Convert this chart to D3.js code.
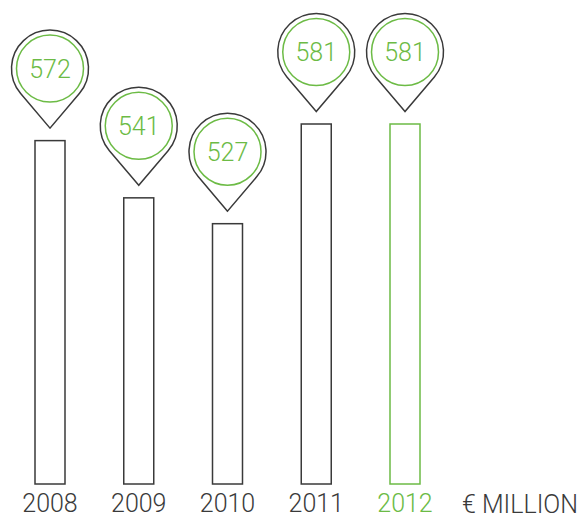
<!DOCTYPE html>
<html>
<head>
<meta charset="utf-8">
<script src="https://d3js.org/d3.v7.min.js"></script>
<style>
  body { margin: 0; background: #fff; }
  svg text { font-family: Roboto, "Open Sans", sans-serif; font-weight: 300; }
</style>
</head>
<body>
<div id="chart"></div>
<script>
var years = ["2008", "2009", "2010", "2011", "2012"];
var values = [572, 541, 527, 581, 581];
var highlight = "2012";
var unitLabel = "€ MILLION";

var width = 583, height = 518;
var dark = "#3a3a3a", green = "#6cbb45";

var svg = d3.select("#chart").append("svg")
    .attr("width", width).attr("height", height);

var x = d3.scaleBand().domain(years).range([35, 420]).paddingInner(0.662).paddingOuter(0);
var y = d3.scaleLinear().domain([386, 581]).range([484, 124]);

var colorOf = function(d) { return d === highlight ? green : dark; };

// bars
svg.selectAll("rect.bar").data(years).enter().append("rect")
    .attr("class", "bar")
    .attr("x", function(d) { return x(d); })
    .attr("y", function(d, i) { return y(values[i]); })
    .attr("width", x.bandwidth())
    .attr("height", function(d, i) { return y.range()[0] - y(values[i]); })
    .attr("fill", "none")
    .attr("stroke", colorOf)
    .attr("stroke-width", 1.5);

// pins
var R = 38.5, r = 33.5, tipGap = 12.5, tipDist = 59.5;
function pinPath(cx, cy) {
    var a = Math.asin(R / tipDist);
    var tx = cx, ty = cy + tipDist;
    var t = Math.sqrt(tipDist * tipDist - R * R);
    var lx = tx - t * Math.sin(a), ly = ty - t * Math.cos(a);
    var rx = tx + t * Math.sin(a);
    return "M" + tx + "," + ty + "L" + lx + "," + ly +
        "A" + R + "," + R + " 0 1 1 " + rx + "," + ly + "Z";
}

var pins = svg.selectAll("g.pin").data(years).enter().append("g")
    .attr("class", "pin")
    .attr("transform", function(d, i) {
        var cx = x(d) + x.bandwidth() / 2;
        var cy = y(values[i]) - tipGap - tipDist;
        return "translate(" + cx + "," + cy + ")";
    });

pins.append("path")
    .attr("d", pinPath(0, 0))
    .attr("fill", "#fff")
    .attr("stroke", dark)
    .attr("stroke-width", 1.5)
    .attr("stroke-linejoin", "miter");

pins.append("circle")
    .attr("r", r)
    .attr("fill", "none")
    .attr("stroke", green)
    .attr("stroke-width", 1.5);

pins.append("text")
    .attr("text-anchor", "middle")
    .attr("dy", "0.36em")
    .attr("font-size", 25)
    .attr("fill", green)
    .text(function(d, i) { return values[i]; });

// axis labels
var axis = svg.append("g").attr("transform", "translate(0,484)")
    .call(d3.axisBottom(x).tickSize(0).tickPadding(10));
axis.select(".domain").remove();
axis.selectAll("text")
    .attr("font-size", 25)
    .attr("font-family", null)
    .attr("dy", "0.71em")
    .attr("fill", colorOf);

svg.append("text")
    .attr("x", 578).attr("y", 513)
    .attr("text-anchor", "end")
    .attr("font-size", 25)
    .attr("fill", dark)
    .text(unitLabel);
</script>
</body>
</html>
